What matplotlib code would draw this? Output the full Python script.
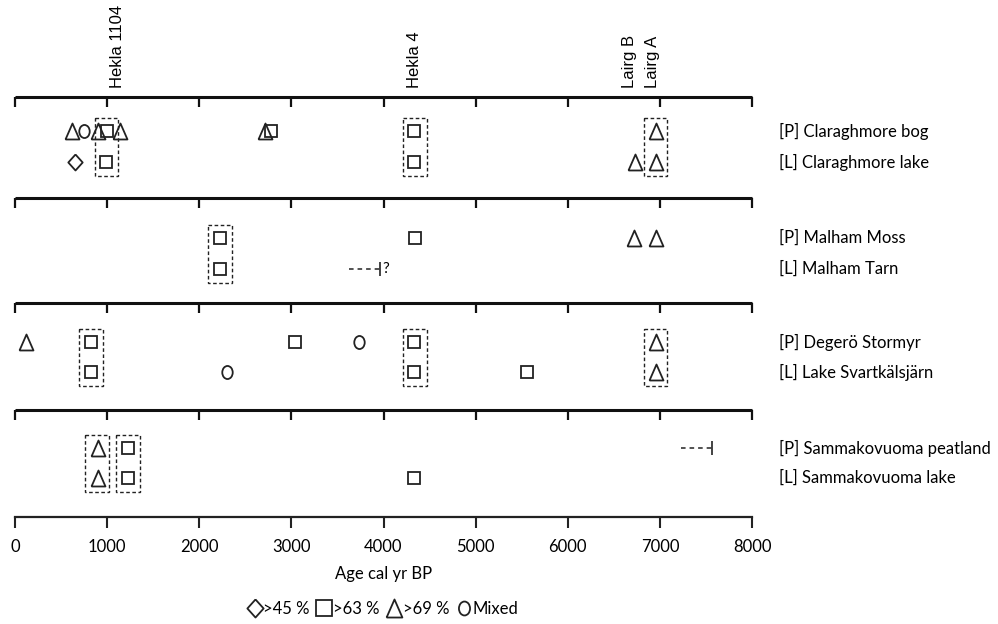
import matplotlib
matplotlib.use('Agg')
import matplotlib.pyplot as plt
from matplotlib.lines import Line2D
from matplotlib.patches import Rectangle
from matplotlib.path import Path
from matplotlib.transforms import Affine2D

plt.rcParams['font.family'] = ['Lato', 'DejaVu Sans']

# Ages (cal yr BP), per site and marker type
xticks = [0, 1000, 2000, 3000, 4000, 5000, 6000, 7000, 8000]

claraghmore_bog = {'tri': [617, 897, 1145, 2716, 6957], 'sq': [997, 2780, 4335], 'circ': [749]}
claraghmore_lake = {'dia': [654], 'sq': [986, 4335], 'tri': [6735, 6957]}
malham_moss = {'sq': [2226, 4346], 'tri': [6714, 6962]}
malham_tarn = {'sq': [2226]}
degero = {'tri': [116, 6957], 'sq': [828, 3043, 4335], 'circ': [3729]}
svartkalsjarn = {'sq': [828, 4335, 5559], 'circ': [2305], 'tri': [6957]}
samm_peat = {'tri': [897], 'sq': [1224]}
samm_lake = {'tri': [897], 'sq': [1224, 4335]}

site_names = ['[P] Claraghmore bog', '[L] Claraghmore lake',
              '[P] Malham Moss', '[L] Malham Tarn',
              '[P] Degerö Stormyr', '[L] Lake Svartkälsjärn',
              '[P] Sammakovuoma peatland', '[L] Sammakovuoma lake']
sites = [claraghmore_bog, claraghmore_lake, malham_moss, malham_tarn,
         degero, svartkalsjarn, samm_peat, samm_lake]

# dashed boxes grouping matching layers, per panel (start, end age)
boxes = [[(865, 1118), (4214, 4467), (6830, 7078)],
         [(2094, 2358)],
         [(696, 960), (4214, 4467), (6830, 7078)],
         [(760, 1023), (1092, 1355)]]

# open-ended age ranges: (site index, start, end)
ranges = [(3, 3623, 3966), (6, 7226, 7568)]

tephra_names = ['Hekla 1104', 'Hekla 4', 'Lairg B', 'Lairg A']
tephra_ages = [1118, 4335, 6672, 6920]

# layout (pixel-like y units)
row_y = [131, 162, 238, 269, 342, 372, 448, 478]
panel_y = [97, 198, 303, 410]
y_bottom = 517

tri = [(-7, -8), (7, -8), (0, 8), (-7, -8)]
dia = [(0, 1), (0.9, 0), (0, -1), (-0.9, 0), (0, 1)]
oval = Path.unit_circle().transformed(Affine2D().scale(0.8, 1.0))
markers = {'tri': (tri, 11.5), 'sq': ('s', 9), 'circ': (oval, 9.4), 'dia': (dia, 11.5)}

fig = plt.figure(figsize=(9.98, 6.24), dpi=100)
ax = fig.add_axes([15 / 998, 1 - y_bottom / 624, 737 / 998, (y_bottom - 97) / 624])
ax.set_xlim(0, 8000)
ax.set_ylim(y_bottom, 97)

for s in ['top', 'left', 'right']:
    ax.spines[s].set_visible(False)
ax.spines['bottom'].set_linewidth(1.6)
ax.spines['bottom'].set_color('#222222')
ax.set_yticks([])
ax.set_xticks(xticks)
ax.tick_params(axis='x', direction='out', length=8, width=1.5, color='#222222',
               pad=8, labelsize=12)
ax.set_xlabel('Age cal yr BP', fontsize=12, labelpad=8)

# panel separator lines with downward ticks
for y in panel_y:
    ax.plot([0, 8000], [y, y], color='#111111', lw=2.2, clip_on=False, solid_capstyle='butt')
    ax.vlines(xticks, y, y + 10, color='#111111', lw=1.6, clip_on=False)

# markers
for site, y in zip(sites, row_y):
    for kind, ages in site.items():
        m, ms = markers[kind]
        ax.plot(ages, [y] * len(ages), linestyle='none', marker=m, markersize=ms,
                markerfacecolor='none', markeredgecolor='#222222', markeredgewidth=1.3)

# dashed boxes
for p, panel in enumerate(boxes):
    y0 = row_y[2 * p] - 13
    y1 = row_y[2 * p + 1] + 14
    for a, b in panel:
        ax.add_patch(Rectangle((a, y0), b - a, y1 - y0, fill=False, edgecolor='#222222',
                               lw=1.0, linestyle=(0, (2.6, 1.8))))

# open-ended ranges
for idx, a, b in ranges:
    y = row_y[idx]
    ax.plot([a, b], [y, y], color='#222222', lw=1.1, linestyle=(0, (3, 2.6)))
    ax.vlines([b], y - 7, y + 7, color='#222222', lw=1.2)
    if idx == 3:
        ax.text(b + 20, y, '?', fontsize=11, va='center', ha='left')

# site labels
for name, y in zip(site_names, row_y):
    ax.text(1.0366, y, name, transform=ax.get_yaxis_transform(), fontsize=12,
            va='center', ha='left', clip_on=False)

# tephra labels
for name, age in zip(tephra_names, tephra_ages):
    ax.text(age, 88, name, rotation=90, ha='center', va='bottom', fontsize=12,
            family='Liberation Sans', clip_on=False)

# legend
handles = [
    Line2D([], [], linestyle='none', marker=dia, markersize=13, markerfacecolor='none',
           markeredgecolor='#222222', markeredgewidth=1.3),
    Line2D([], [], linestyle='none', marker='s', markersize=11, markerfacecolor='none',
           markeredgecolor='#222222', markeredgewidth=1.3),
    Line2D([], [], linestyle='none', marker=tri, markersize=13, markerfacecolor='none',
           markeredgecolor='#222222', markeredgewidth=1.3),
    Line2D([], [], linestyle='none', marker=oval, markersize=10, markerfacecolor='none',
           markeredgecolor='#222222', markeredgewidth=1.3),
]
fig.legend(handles, ['>45 %', '>63 %', '>69 %', 'Mixed'], ncol=4, frameon=False,
           loc='center', bbox_to_anchor=(383 / 998, 1 - 609 / 624), fontsize=12,
           handlelength=0.8, handletextpad=0.1, columnspacing=0.5, borderpad=0)

fig.savefig('out.png', dpi=100)
